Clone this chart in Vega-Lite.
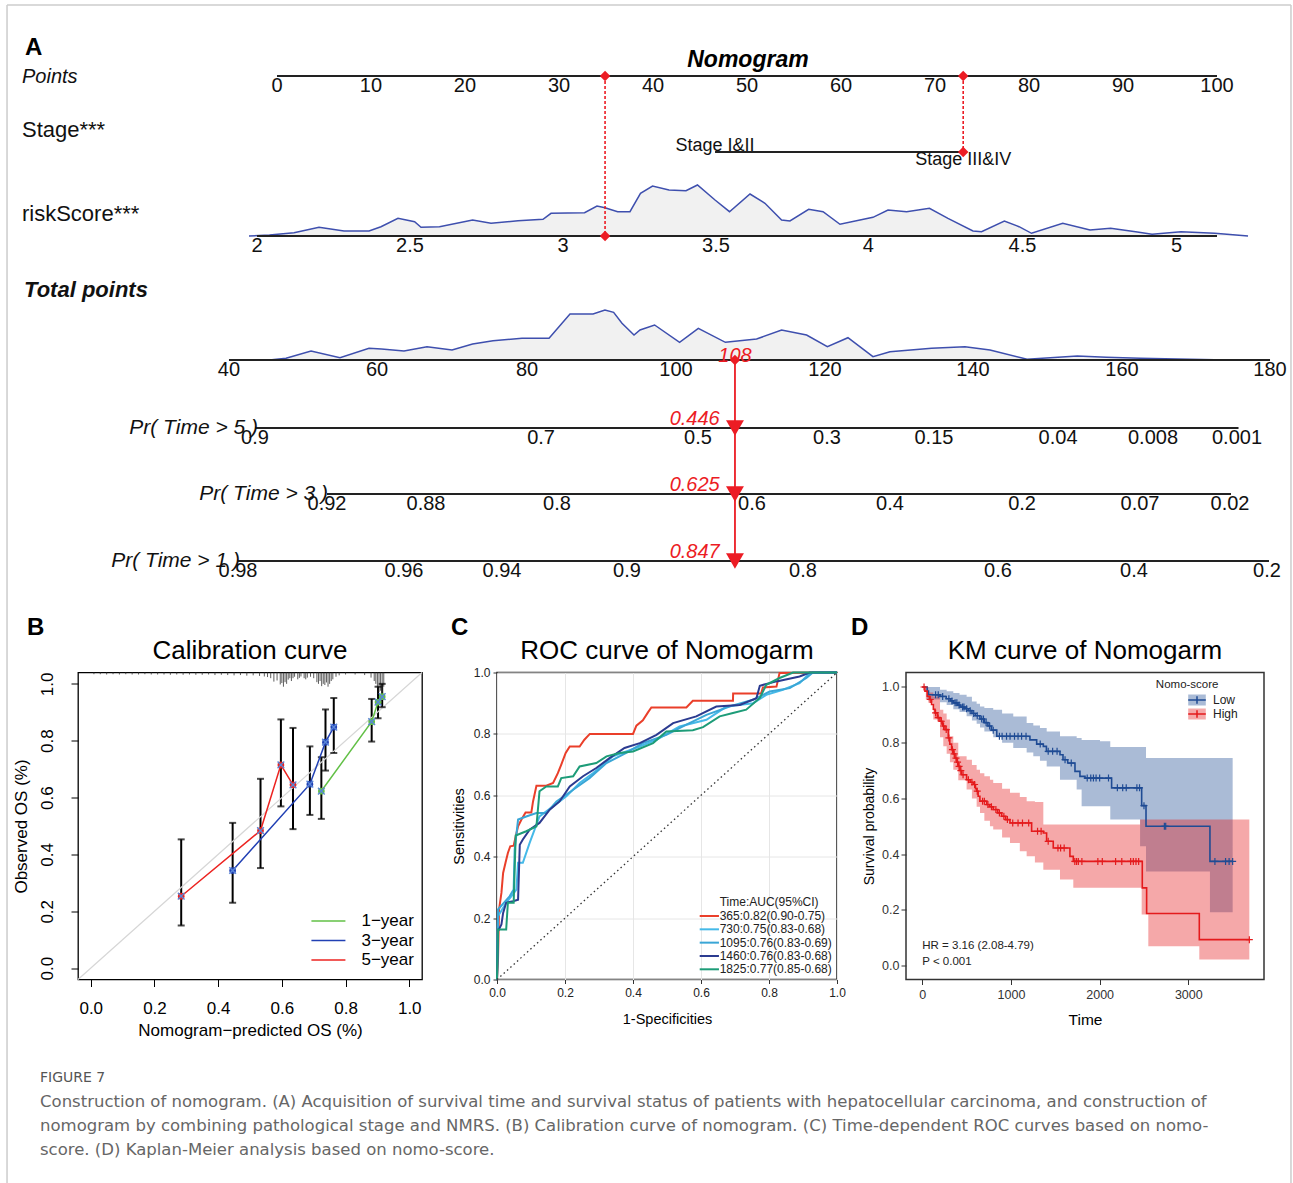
{
"$schema":"https://vega.github.io/schema/vega-lite/v6.json",
"background":"white",
"padding":0,
"bounds":"flush",
"spacing":80.5,
"config":{"view":{"stroke":null},"font":"Liberation Sans","axis":{"labelFont":"Liberation Sans","titleFont":"Liberation Sans","labelColor":"#000","titleColor":"#000","titleFontWeight":"normal"},"title":{"font":"Liberation Sans","fontWeight":"normal","color":"#000"},"text":{"font":"Liberation Sans"}},
"datasets":{
"densRS":[{"p":-2.98,"d":0},{"p":-0.8,"d":1},{"p":1.81,"d":3.3},{"p":4.47,"d":8.7},{"p":7.13,"d":5},{"p":9.79,"d":5},{"p":11.06,"d":9.3},{"p":12.87,"d":17.7},{"p":14.64,"d":14.3},{"p":15.32,"d":8.7},{"p":17.29,"d":9.3},{"p":20.81,"d":16},{"p":22.77,"d":12.7},{"p":25.64,"d":15.3},{"p":28.3,"d":16.7},{"p":29.15,"d":22.7},{"p":32.72,"d":23.3},{"p":34.04,"d":30},{"p":34.89,"d":28.3},{"p":36.24,"d":24.3},{"p":37.55,"d":24.3},{"p":38.67,"d":42.7},{"p":39.95,"d":50},{"p":41.7,"d":46},{"p":43.51,"d":45.3},{"p":44.73,"d":51},{"p":46.6,"d":36},{"p":48.14,"d":24.3},{"p":50.32,"d":42},{"p":51.91,"d":32.7},{"p":53.68,"d":16},{"p":54.57,"d":15},{"p":56.56,"d":26.7},{"p":58.09,"d":24.3},{"p":59.89,"d":11.7},{"p":63.4,"d":18.7},{"p":65.0,"d":26},{"p":66.98,"d":24.3},{"p":69.41,"d":27.7},{"p":71.38,"d":17.7},{"p":74.04,"d":5},{"p":74.95,"d":4.3},{"p":77.38,"d":15},{"p":78.94,"d":9.3},{"p":80.27,"d":2.7},{"p":83.59,"d":12.7},{"p":86.49,"d":6},{"p":88.68,"d":7.7},{"p":91.34,"d":4.3},{"p":93.09,"d":1.7},{"p":96.17,"d":4.3},{"p":99.77,"d":2.7},{"p":103.3,"d":0}],
"densTP":[{"p":-0.8,"d":0},{"p":0.96,"d":1.7},{"p":3.62,"d":9},{"p":6.7,"d":2.3},{"p":9.79,"d":11.7},{"p":11.11,"d":11},{"p":13.51,"d":9},{"p":15.96,"d":13.3},{"p":18.62,"d":10},{"p":20.81,"d":16},{"p":22.98,"d":19.3},{"p":26.06,"d":21.7},{"p":28.94,"d":21.7},{"p":31.17,"d":46},{"p":33.62,"d":46},{"p":34.89,"d":50},{"p":35.81,"d":47.7},{"p":36.7,"d":36.7},{"p":37.98,"d":25},{"p":38.62,"d":30},{"p":40.17,"d":35},{"p":42.83,"d":17.7},{"p":44.82,"d":31.7},{"p":47.7,"d":17.7},{"p":51.02,"d":21},{"p":53.68,"d":30},{"p":56.34,"d":25},{"p":58.55,"d":13.3},{"p":60.74,"d":22.3},{"p":63.4,"d":3.3},{"p":65.21,"d":8.3},{"p":69.63,"d":11.7},{"p":73.19,"d":13.3},{"p":75.85,"d":10},{"p":79.79,"d":0.7},{"p":85.14,"d":4},{"p":88.24,"d":2.7},{"p":91.81,"d":1.7},{"p":101.06,"d":0}],
"nomoAxis":[{"r":3,"p1":0,"p2":100},{"r":4,"p1":46.6,"p2":73.0},{"r":5,"p1":-2.13,"p2":100},{"r":7,"p1":-5.11,"p2":105.64},{"r":8,"p1":-2.34,"p2":102.29},{"r":9,"p1":5.32,"p2":101.49},{"r":10,"p1":-4.15,"p2":105.53}],
"nomoTicks":[
{"r":3,"p":0,"t":"0"},{"r":3,"p":10,"t":"10"},{"r":3,"p":20,"t":"20"},{"r":3,"p":30,"t":"30"},{"r":3,"p":40,"t":"40"},{"r":3,"p":50,"t":"50"},{"r":3,"p":60,"t":"60"},{"r":3,"p":70,"t":"70"},{"r":3,"p":80,"t":"80"},{"r":3,"p":90,"t":"90"},{"r":3,"p":100,"t":"100"},
{"r":5,"p":-2.13,"t":"2"},{"r":5,"p":14.15,"t":"2.5"},{"r":5,"p":30.43,"t":"3"},{"r":5,"p":46.7,"t":"3.5"},{"r":5,"p":62.9,"t":"4"},{"r":5,"p":79.3,"t":"4.5"},{"r":5,"p":95.7,"t":"5"},
{"r":7,"p":-5.11,"t":"40"},{"r":7,"p":10.64,"t":"60"},{"r":7,"p":26.6,"t":"80"},{"r":7,"p":42.45,"t":"100"},{"r":7,"p":58.3,"t":"120"},{"r":7,"p":74.04,"t":"140"},{"r":7,"p":89.9,"t":"160"},{"r":7,"p":105.64,"t":"180"},
{"r":8,"p":-2.34,"t":"0.9"},{"r":8,"p":28.09,"t":"0.7"},{"r":8,"p":44.79,"t":"0.5"},{"r":8,"p":58.51,"t":"0.3"},{"r":8,"p":69.89,"t":"0.15"},{"r":8,"p":83.09,"t":"0.04"},{"r":8,"p":93.19,"t":"0.008"},{"r":8,"p":102.13,"t":"0.001"},
{"r":9,"p":5.32,"t":"0.92"},{"r":9,"p":15.85,"t":"0.88"},{"r":9,"p":29.79,"t":"0.8"},{"r":9,"p":50.53,"t":"0.6"},{"r":9,"p":65.21,"t":"0.4"},{"r":9,"p":79.26,"t":"0.2"},{"r":9,"p":91.81,"t":"0.07"},{"r":9,"p":101.38,"t":"0.02"},
{"r":10,"p":-4.15,"t":"0.98"},{"r":10,"p":13.51,"t":"0.96"},{"r":10,"p":23.94,"t":"0.94"},{"r":10,"p":37.23,"t":"0.9"},{"r":10,"p":55.96,"t":"0.8"},{"r":10,"p":76.7,"t":"0.6"},{"r":10,"p":91.17,"t":"0.4"},{"r":10,"p":105.32,"t":"0.2"}],
"rug":[{"pred":0.01,"bot":1.034},{"pred":0.03,"bot":1.034},{"pred":0.05,"bot":1.033},{"pred":0.07,"bot":1.034},{"pred":0.09,"bot":1.033},{"pred":0.11,"bot":1.034},{"pred":0.13,"bot":1.033},{"pred":0.15,"bot":1.033},{"pred":0.17,"bot":1.034},{"pred":0.19,"bot":1.033},{"pred":0.21,"bot":1.033},{"pred":0.23,"bot":1.033},{"pred":0.25,"bot":1.032},{"pred":0.27,"bot":1.033},{"pred":0.29,"bot":1.032},{"pred":0.31,"bot":1.033},{"pred":0.33,"bot":1.032},{"pred":0.35,"bot":1.032},{"pred":0.37,"bot":1.033},{"pred":0.39,"bot":1.031},{"pred":0.41,"bot":1.032},{"pred":0.43,"bot":1.031},{"pred":0.45,"bot":1.03},{"pred":0.47,"bot":1.031},{"pred":0.49,"bot":1.029},{"pred":0.51,"bot":1.03},{"pred":0.53,"bot":1.028},{"pred":0.545,"bot":1.026},{"pred":0.555,"bot":1.024},{"pred":0.565,"bot":1.02},{"pred":0.575,"bot":1.008},{"pred":0.585,"bot":1.012},{"pred":0.595,"bot":0.998},{"pred":0.6,"bot":1.003},{"pred":0.605,"bot":0.99},{"pred":0.61,"bot":1.006},{"pred":0.615,"bot":1.0},{"pred":0.62,"bot":1.015},{"pred":0.625,"bot":1.02},{"pred":0.63,"bot":1.01},{"pred":0.635,"bot":1.02},{"pred":0.64,"bot":1.025},{"pred":0.65,"bot":1.016},{"pred":0.655,"bot":1.021},{"pred":0.66,"bot":1.026},{"pred":0.67,"bot":1.02},{"pred":0.675,"bot":1.016},{"pred":0.68,"bot":1.022},{"pred":0.69,"bot":1.025},{"pred":0.7,"bot":1.02},{"pred":0.71,"bot":1.006},{"pred":0.715,"bot":1.0},{"pred":0.72,"bot":1.01},{"pred":0.725,"bot":0.992},{"pred":0.73,"bot":1.0},{"pred":0.735,"bot":0.996},{"pred":0.74,"bot":1.005},{"pred":0.745,"bot":0.99},{"pred":0.75,"bot":1.0},{"pred":0.755,"bot":1.01},{"pred":0.76,"bot":1.016},{"pred":0.77,"bot":1.025},{"pred":0.78,"bot":1.03},{"pred":0.8,"bot":1.033},{"pred":0.83,"bot":1.033},{"pred":0.86,"bot":1.031},{"pred":0.88,"bot":1.022},{"pred":0.89,"bot":1.01},{"pred":0.895,"bot":1.0},{"pred":0.9,"bot":0.985},{"pred":0.905,"bot":0.972},{"pred":0.91,"bot":0.976},{"pred":0.915,"bot":0.966},{"pred":0.92,"bot":0.99}],
"calib":[
{"s":"1−year","pred":0.724,"obs":0.623,"lo":0.525,"hi":0.742},
{"s":"1−year","pred":0.882,"obs":0.867,"lo":0.797,"hi":0.947},
{"s":"1−year","pred":0.902,"obs":0.936,"lo":0.879,"hi":0.99},
{"s":"1−year","pred":0.915,"obs":0.955,"lo":0.918,"hi":1.0},
{"s":"3−year","pred":0.4455,"obs":0.3435,"lo":0.23,"hi":0.511},
{"s":"3−year","pred":0.688,"obs":0.647,"lo":0.539,"hi":0.78},
{"s":"3−year","pred":0.737,"obs":0.795,"lo":0.695,"hi":0.91},
{"s":"3−year","pred":0.763,"obs":0.848,"lo":0.757,"hi":0.95},
{"s":"5−year","pred":0.284,"obs":0.253,"lo":0.15,"hi":0.453},
{"s":"5−year","pred":0.533,"obs":0.484,"lo":0.352,"hi":0.666},
{"s":"5−year","pred":0.597,"obs":0.715,"lo":0.569,"hi":0.875},
{"s":"5−year","pred":0.635,"obs":0.645,"lo":0.489,"hi":0.845}],
"roc":[
{"s":"365:0.82(0.90-0.75)","fpr":0,"tpr":0},{"s":"365:0.82(0.90-0.75)","fpr":0.003,"tpr":0.065},{"s":"365:0.82(0.90-0.75)","fpr":0.006,"tpr":0.228},{"s":"365:0.82(0.90-0.75)","fpr":0.013,"tpr":0.282},{"s":"365:0.82(0.90-0.75)","fpr":0.018,"tpr":0.347},{"s":"365:0.82(0.90-0.75)","fpr":0.025,"tpr":0.38},{"s":"365:0.82(0.90-0.75)","fpr":0.032,"tpr":0.412},{"s":"365:0.82(0.90-0.75)","fpr":0.039,"tpr":0.434},{"s":"365:0.82(0.90-0.75)","fpr":0.049,"tpr":0.436},{"s":"365:0.82(0.90-0.75)","fpr":0.055,"tpr":0.466},{"s":"365:0.82(0.90-0.75)","fpr":0.062,"tpr":0.499},{"s":"365:0.82(0.90-0.75)","fpr":0.072,"tpr":0.521},{"s":"365:0.82(0.90-0.75)","fpr":0.084,"tpr":0.544},{"s":"365:0.82(0.90-0.75)","fpr":0.101,"tpr":0.544},{"s":"365:0.82(0.90-0.75)","fpr":0.106,"tpr":0.58},{"s":"365:0.82(0.90-0.75)","fpr":0.116,"tpr":0.631},{"s":"365:0.82(0.90-0.75)","fpr":0.145,"tpr":0.631},{"s":"365:0.82(0.90-0.75)","fpr":0.165,"tpr":0.64},{"s":"365:0.82(0.90-0.75)","fpr":0.179,"tpr":0.672},{"s":"365:0.82(0.90-0.75)","fpr":0.189,"tpr":0.7},{"s":"365:0.82(0.90-0.75)","fpr":0.202,"tpr":0.738},{"s":"365:0.82(0.90-0.75)","fpr":0.214,"tpr":0.759},{"s":"365:0.82(0.90-0.75)","fpr":0.243,"tpr":0.759},{"s":"365:0.82(0.90-0.75)","fpr":0.257,"tpr":0.781},{"s":"365:0.82(0.90-0.75)","fpr":0.273,"tpr":0.8},{"s":"365:0.82(0.90-0.75)","fpr":0.4,"tpr":0.8},{"s":"365:0.82(0.90-0.75)","fpr":0.41,"tpr":0.827},{"s":"365:0.82(0.90-0.75)","fpr":0.429,"tpr":0.844},{"s":"365:0.82(0.90-0.75)","fpr":0.444,"tpr":0.87},{"s":"365:0.82(0.90-0.75)","fpr":0.454,"tpr":0.886},{"s":"365:0.82(0.90-0.75)","fpr":0.557,"tpr":0.886},{"s":"365:0.82(0.90-0.75)","fpr":0.576,"tpr":0.908},{"s":"365:0.82(0.90-0.75)","fpr":0.694,"tpr":0.908},{"s":"365:0.82(0.90-0.75)","fpr":0.6945,"tpr":0.932},{"s":"365:0.82(0.90-0.75)","fpr":0.777,"tpr":0.932},{"s":"365:0.82(0.90-0.75)","fpr":0.782,"tpr":0.951},{"s":"365:0.82(0.90-0.75)","fpr":0.822,"tpr":0.954},{"s":"365:0.82(0.90-0.75)","fpr":0.831,"tpr":0.998},{"s":"365:0.82(0.90-0.75)","fpr":1,"tpr":1},
{"s":"730:0.75(0.83-0.68)","fpr":0,"tpr":0},{"s":"730:0.75(0.83-0.68)","fpr":0.003,"tpr":0.206},{"s":"730:0.75(0.83-0.68)","fpr":0.027,"tpr":0.25},{"s":"730:0.75(0.83-0.68)","fpr":0.042,"tpr":0.271},{"s":"730:0.75(0.83-0.68)","fpr":0.057,"tpr":0.293},{"s":"730:0.75(0.83-0.68)","fpr":0.062,"tpr":0.38},{"s":"730:0.75(0.83-0.68)","fpr":0.076,"tpr":0.38},{"s":"730:0.75(0.83-0.68)","fpr":0.096,"tpr":0.445},{"s":"730:0.75(0.83-0.68)","fpr":0.125,"tpr":0.531},{"s":"730:0.75(0.83-0.68)","fpr":0.165,"tpr":0.564},{"s":"730:0.75(0.83-0.68)","fpr":0.204,"tpr":0.597},{"s":"730:0.75(0.83-0.68)","fpr":0.243,"tpr":0.64},{"s":"730:0.75(0.83-0.68)","fpr":0.282,"tpr":0.672},{"s":"730:0.75(0.83-0.68)","fpr":0.341,"tpr":0.727},{"s":"730:0.75(0.83-0.68)","fpr":0.42,"tpr":0.759},{"s":"730:0.75(0.83-0.68)","fpr":0.469,"tpr":0.781},{"s":"730:0.75(0.83-0.68)","fpr":0.537,"tpr":0.824},{"s":"730:0.75(0.83-0.68)","fpr":0.616,"tpr":0.846},{"s":"730:0.75(0.83-0.68)","fpr":0.675,"tpr":0.889},{"s":"730:0.75(0.83-0.68)","fpr":0.753,"tpr":0.9},{"s":"730:0.75(0.83-0.68)","fpr":0.792,"tpr":0.927},{"s":"730:0.75(0.83-0.68)","fpr":0.841,"tpr":0.944},{"s":"730:0.75(0.83-0.68)","fpr":0.89,"tpr":0.965},{"s":"730:0.75(0.83-0.68)","fpr":0.92,"tpr":0.998},{"s":"730:0.75(0.83-0.68)","fpr":1,"tpr":1},
{"s":"1095:0.76(0.83-0.69)","fpr":0,"tpr":0},{"s":"1095:0.76(0.83-0.69)","fpr":0.003,"tpr":0.228},{"s":"1095:0.76(0.83-0.69)","fpr":0.037,"tpr":0.271},{"s":"1095:0.76(0.83-0.69)","fpr":0.049,"tpr":0.293},{"s":"1095:0.76(0.83-0.69)","fpr":0.052,"tpr":0.423},{"s":"1095:0.76(0.83-0.69)","fpr":0.062,"tpr":0.521},{"s":"1095:0.76(0.83-0.69)","fpr":0.086,"tpr":0.531},{"s":"1095:0.76(0.83-0.69)","fpr":0.116,"tpr":0.542},{"s":"1095:0.76(0.83-0.69)","fpr":0.145,"tpr":0.542},{"s":"1095:0.76(0.83-0.69)","fpr":0.175,"tpr":0.58},{"s":"1095:0.76(0.83-0.69)","fpr":0.224,"tpr":0.618},{"s":"1095:0.76(0.83-0.69)","fpr":0.272,"tpr":0.656},{"s":"1095:0.76(0.83-0.69)","fpr":0.322,"tpr":0.705},{"s":"1095:0.76(0.83-0.69)","fpr":0.38,"tpr":0.738},{"s":"1095:0.76(0.83-0.69)","fpr":0.429,"tpr":0.77},{"s":"1095:0.76(0.83-0.69)","fpr":0.498,"tpr":0.797},{"s":"1095:0.76(0.83-0.69)","fpr":0.557,"tpr":0.83},{"s":"1095:0.76(0.83-0.69)","fpr":0.616,"tpr":0.862},{"s":"1095:0.76(0.83-0.69)","fpr":0.684,"tpr":0.889},{"s":"1095:0.76(0.83-0.69)","fpr":0.753,"tpr":0.911},{"s":"1095:0.76(0.83-0.69)","fpr":0.802,"tpr":0.938},{"s":"1095:0.76(0.83-0.69)","fpr":0.861,"tpr":0.949},{"s":"1095:0.76(0.83-0.69)","fpr":0.91,"tpr":0.982},{"s":"1095:0.76(0.83-0.69)","fpr":0.929,"tpr":1.0},{"s":"1095:0.76(0.83-0.69)","fpr":1,"tpr":1},
{"s":"1460:0.76(0.83-0.68)","fpr":0,"tpr":0},{"s":"1460:0.76(0.83-0.68)","fpr":0.003,"tpr":0.157},{"s":"1460:0.76(0.83-0.68)","fpr":0.013,"tpr":0.179},{"s":"1460:0.76(0.83-0.68)","fpr":0.018,"tpr":0.217},{"s":"1460:0.76(0.83-0.68)","fpr":0.027,"tpr":0.25},{"s":"1460:0.76(0.83-0.68)","fpr":0.047,"tpr":0.255},{"s":"1460:0.76(0.83-0.68)","fpr":0.062,"tpr":0.26},{"s":"1460:0.76(0.83-0.68)","fpr":0.067,"tpr":0.439},{"s":"1460:0.76(0.83-0.68)","fpr":0.076,"tpr":0.456},{"s":"1460:0.76(0.83-0.68)","fpr":0.096,"tpr":0.488},{"s":"1460:0.76(0.83-0.68)","fpr":0.125,"tpr":0.51},{"s":"1460:0.76(0.83-0.68)","fpr":0.155,"tpr":0.553},{"s":"1460:0.76(0.83-0.68)","fpr":0.184,"tpr":0.58},{"s":"1460:0.76(0.83-0.68)","fpr":0.214,"tpr":0.629},{"s":"1460:0.76(0.83-0.68)","fpr":0.253,"tpr":0.662},{"s":"1460:0.76(0.83-0.68)","fpr":0.292,"tpr":0.689},{"s":"1460:0.76(0.83-0.68)","fpr":0.331,"tpr":0.721},{"s":"1460:0.76(0.83-0.68)","fpr":0.375,"tpr":0.754},{"s":"1460:0.76(0.83-0.68)","fpr":0.42,"tpr":0.77},{"s":"1460:0.76(0.83-0.68)","fpr":0.469,"tpr":0.797},{"s":"1460:0.76(0.83-0.68)","fpr":0.518,"tpr":0.835},{"s":"1460:0.76(0.83-0.68)","fpr":0.586,"tpr":0.857},{"s":"1460:0.76(0.83-0.68)","fpr":0.645,"tpr":0.889},{"s":"1460:0.76(0.83-0.68)","fpr":0.714,"tpr":0.894},{"s":"1460:0.76(0.83-0.68)","fpr":0.763,"tpr":0.916},{"s":"1460:0.76(0.83-0.68)","fpr":0.773,"tpr":0.957},{"s":"1460:0.76(0.83-0.68)","fpr":0.822,"tpr":0.971},{"s":"1460:0.76(0.83-0.68)","fpr":0.89,"tpr":0.987},{"s":"1460:0.76(0.83-0.68)","fpr":0.92,"tpr":1.0},{"s":"1460:0.76(0.83-0.68)","fpr":1,"tpr":1},
{"s":"1825:0.77(0.85-0.68)","fpr":0,"tpr":0},{"s":"1825:0.77(0.85-0.68)","fpr":0.003,"tpr":0.163},{"s":"1825:0.77(0.85-0.68)","fpr":0.027,"tpr":0.163},{"s":"1825:0.77(0.85-0.68)","fpr":0.032,"tpr":0.25},{"s":"1825:0.77(0.85-0.68)","fpr":0.049,"tpr":0.25},{"s":"1825:0.77(0.85-0.68)","fpr":0.055,"tpr":0.469},{"s":"1825:0.77(0.85-0.68)","fpr":0.086,"tpr":0.483},{"s":"1825:0.77(0.85-0.68)","fpr":0.116,"tpr":0.499},{"s":"1825:0.77(0.85-0.68)","fpr":0.125,"tpr":0.613},{"s":"1825:0.77(0.85-0.68)","fpr":0.145,"tpr":0.629},{"s":"1825:0.77(0.85-0.68)","fpr":0.179,"tpr":0.629},{"s":"1825:0.77(0.85-0.68)","fpr":0.189,"tpr":0.656},{"s":"1825:0.77(0.85-0.68)","fpr":0.224,"tpr":0.662},{"s":"1825:0.77(0.85-0.68)","fpr":0.243,"tpr":0.694},{"s":"1825:0.77(0.85-0.68)","fpr":0.292,"tpr":0.705},{"s":"1825:0.77(0.85-0.68)","fpr":0.322,"tpr":0.727},{"s":"1825:0.77(0.85-0.68)","fpr":0.361,"tpr":0.738},{"s":"1825:0.77(0.85-0.68)","fpr":0.4,"tpr":0.743},{"s":"1825:0.77(0.85-0.68)","fpr":0.459,"tpr":0.77},{"s":"1825:0.77(0.85-0.68)","fpr":0.498,"tpr":0.808},{"s":"1825:0.77(0.85-0.68)","fpr":0.576,"tpr":0.812},{"s":"1825:0.77(0.85-0.68)","fpr":0.606,"tpr":0.822},{"s":"1825:0.77(0.85-0.68)","fpr":0.655,"tpr":0.857},{"s":"1825:0.77(0.85-0.68)","fpr":0.694,"tpr":0.868},{"s":"1825:0.77(0.85-0.68)","fpr":0.733,"tpr":0.879},{"s":"1825:0.77(0.85-0.68)","fpr":0.773,"tpr":0.917},{"s":"1825:0.77(0.85-0.68)","fpr":0.792,"tpr":0.96},{"s":"1825:0.77(0.85-0.68)","fpr":0.831,"tpr":0.982},{"s":"1825:0.77(0.85-0.68)","fpr":0.871,"tpr":1.0},{"s":"1825:0.77(0.85-0.68)","fpr":1,"tpr":1}],
"kmcurve":[
{"g":"Low","t":0,"s":1},{"g":"Low","t":55,"s":0.985},{"g":"Low","t":70,"s":0.972},{"g":"Low","t":200,"s":0.966},{"g":"Low","t":270,"s":0.958},{"g":"Low","t":320,"s":0.95},{"g":"Low","t":350,"s":0.943},{"g":"Low","t":400,"s":0.935},{"g":"Low","t":430,"s":0.928},{"g":"Low","t":480,"s":0.922},{"g":"Low","t":520,"s":0.915},{"g":"Low","t":560,"s":0.905},{"g":"Low","t":600,"s":0.897},{"g":"Low","t":650,"s":0.885},{"g":"Low","t":700,"s":0.872},{"g":"Low","t":740,"s":0.86},{"g":"Low","t":780,"s":0.845},{"g":"Low","t":840,"s":0.823},{"g":"Low","t":1214,"s":0.81},{"g":"Low","t":1290,"s":0.795},{"g":"Low","t":1365,"s":0.787},{"g":"Low","t":1400,"s":0.769},{"g":"Low","t":1553,"s":0.757},{"g":"Low","t":1587,"s":0.739},{"g":"Low","t":1640,"s":0.727},{"g":"Low","t":1722,"s":0.697},{"g":"Low","t":1778,"s":0.679},{"g":"Low","t":1835,"s":0.673},{"g":"Low","t":2135,"s":0.638},{"g":"Low","t":2474,"s":0.574},{"g":"Low","t":2523,"s":0.5},{"g":"Low","t":3244,"s":0.374},{"g":"Low","t":3500,"s":0.374},
{"g":"High","t":0,"s":1},{"g":"High","t":30,"s":0.985},{"g":"High","t":56,"s":0.967},{"g":"High","t":80,"s":0.955},{"g":"High","t":105,"s":0.937},{"g":"High","t":125,"s":0.92},{"g":"High","t":143,"s":0.907},{"g":"High","t":170,"s":0.89},{"g":"High","t":199,"s":0.877},{"g":"High","t":230,"s":0.86},{"g":"High","t":256,"s":0.847},{"g":"High","t":293,"s":0.817},{"g":"High","t":310,"s":0.795},{"g":"High","t":331,"s":0.775},{"g":"High","t":350,"s":0.76},{"g":"High","t":368,"s":0.745},{"g":"High","t":390,"s":0.73},{"g":"High","t":406,"s":0.715},{"g":"High","t":425,"s":0.7},{"g":"High","t":444,"s":0.685},{"g":"High","t":500,"s":0.667},{"g":"High","t":540,"s":0.658},{"g":"High","t":575,"s":0.65},{"g":"High","t":600,"s":0.635},{"g":"High","t":613,"s":0.626},{"g":"High","t":630,"s":0.608},{"g":"High","t":650,"s":0.59},{"g":"High","t":726,"s":0.578},{"g":"High","t":760,"s":0.57},{"g":"High","t":800,"s":0.56},{"g":"High","t":850,"s":0.548},{"g":"High","t":895,"s":0.536},{"g":"High","t":940,"s":0.524},{"g":"High","t":989,"s":0.512},{"g":"High","t":1233,"s":0.482},{"g":"High","t":1365,"s":0.476},{"g":"High","t":1402,"s":0.446},{"g":"High","t":1477,"s":0.422},{"g":"High","t":1665,"s":0.392},{"g":"High","t":1703,"s":0.374},{"g":"High","t":2481,"s":0.279},{"g":"High","t":2530,"s":0.187},{"g":"High","t":3124,"s":0.093},{"g":"High","t":3688,"s":0.093}],
"kmband":[
{"g":"Low","t":0,"lo":1,"hi":1},{"g":"Low","t":50,"lo":0.955,"hi":1},{"g":"Low","t":200,"lo":0.945,"hi":0.99},{"g":"Low","t":275,"lo":0.935,"hi":0.985},{"g":"Low","t":350,"lo":0.92,"hi":0.978},{"g":"Low","t":420,"lo":0.91,"hi":0.972},{"g":"Low","t":500,"lo":0.895,"hi":0.965},{"g":"Low","t":560,"lo":0.88,"hi":0.948},{"g":"Low","t":613,"lo":0.868,"hi":0.94},{"g":"Low","t":651,"lo":0.855,"hi":0.93},{"g":"Low","t":700,"lo":0.84,"hi":0.925},{"g":"Low","t":800,"lo":0.82,"hi":0.918},{"g":"Low","t":900,"lo":0.8,"hi":0.905},{"g":"Low","t":1026,"lo":0.781,"hi":0.894},{"g":"Low","t":1177,"lo":0.765,"hi":0.871},{"g":"Low","t":1252,"lo":0.751,"hi":0.862},{"g":"Low","t":1327,"lo":0.735,"hi":0.853},{"g":"Low","t":1403,"lo":0.715,"hi":0.84},{"g":"Low","t":1553,"lo":0.667,"hi":0.823},{"g":"Low","t":1741,"lo":0.632,"hi":0.817},{"g":"Low","t":1797,"lo":0.572,"hi":0.81},{"g":"Low","t":2004,"lo":0.572,"hi":0.805},{"g":"Low","t":2120,"lo":0.524,"hi":0.785},{"g":"Low","t":2456,"lo":0.428,"hi":0.785},{"g":"Low","t":2523,"lo":0.338,"hi":0.745},{"g":"Low","t":3244,"lo":0.191,"hi":0.745},{"g":"Low","t":3500,"lo":0.191,"hi":0.745},
{"g":"High","t":0,"lo":1,"hi":1},{"g":"High","t":40,"lo":0.955,"hi":1},{"g":"High","t":68,"lo":0.943,"hi":0.98},{"g":"High","t":124,"lo":0.883,"hi":0.966},{"g":"High","t":200,"lo":0.82,"hi":0.918},{"g":"High","t":237,"lo":0.787,"hi":0.905},{"g":"High","t":275,"lo":0.76,"hi":0.883},{"g":"High","t":312,"lo":0.73,"hi":0.823},{"g":"High","t":350,"lo":0.703,"hi":0.8},{"g":"High","t":406,"lo":0.665,"hi":0.751},{"g":"High","t":500,"lo":0.632,"hi":0.739},{"g":"High","t":560,"lo":0.6,"hi":0.72},{"g":"High","t":613,"lo":0.57,"hi":0.703},{"g":"High","t":651,"lo":0.548,"hi":0.69},{"g":"High","t":700,"lo":0.52,"hi":0.68},{"g":"High","t":763,"lo":0.5,"hi":0.667},{"g":"High","t":800,"lo":0.488,"hi":0.655},{"g":"High","t":900,"lo":0.46,"hi":0.635},{"g":"High","t":989,"lo":0.44,"hi":0.62},{"g":"High","t":1100,"lo":0.41,"hi":0.605},{"g":"High","t":1177,"lo":0.392,"hi":0.59},{"g":"High","t":1270,"lo":0.37,"hi":0.587},{"g":"High","t":1365,"lo":0.344,"hi":0.506},{"g":"High","t":1553,"lo":0.309,"hi":0.506},{"g":"High","t":1703,"lo":0.279,"hi":0.506},{"g":"High","t":2456,"lo":0.279,"hi":0.524},{"g":"High","t":2474,"lo":0.183,"hi":0.524},{"g":"High","t":2549,"lo":0.069,"hi":0.524},{"g":"High","t":3124,"lo":0.022,"hi":0.524},{"g":"High","t":3688,"lo":0.022,"hi":0.524}],
"kmcens":[
{"g":"Low","t":150,"s":0.972},{"g":"Low","t":180,"s":0.972},{"g":"Low","t":230,"s":0.966},{"g":"Low","t":300,"s":0.958},{"g":"Low","t":335,"s":0.95},{"g":"Low","t":370,"s":0.943},{"g":"Low","t":390,"s":0.943},{"g":"Low","t":415,"s":0.935},{"g":"Low","t":455,"s":0.928},{"g":"Low","t":470,"s":0.928},{"g":"Low","t":500,"s":0.922},{"g":"Low","t":540,"s":0.915},{"g":"Low","t":580,"s":0.905},{"g":"Low","t":620,"s":0.897},{"g":"Low","t":670,"s":0.885},{"g":"Low","t":690,"s":0.885},{"g":"Low","t":720,"s":0.872},{"g":"Low","t":760,"s":0.86},{"g":"Low","t":800,"s":0.845},{"g":"Low","t":870,"s":0.823},{"g":"Low","t":900,"s":0.823},{"g":"Low","t":950,"s":0.823},{"g":"Low","t":990,"s":0.823},{"g":"Low","t":1040,"s":0.823},{"g":"Low","t":1080,"s":0.823},{"g":"Low","t":1120,"s":0.823},{"g":"Low","t":1170,"s":0.823},{"g":"Low","t":1330,"s":0.795},{"g":"Low","t":1420,"s":0.769},{"g":"Low","t":1470,"s":0.769},{"g":"Low","t":1520,"s":0.769},{"g":"Low","t":1610,"s":0.739},{"g":"Low","t":1680,"s":0.727},{"g":"Low","t":1860,"s":0.673},{"g":"Low","t":1900,"s":0.673},{"g":"Low","t":1930,"s":0.673},{"g":"Low","t":1960,"s":0.673},{"g":"Low","t":2000,"s":0.673},{"g":"Low","t":2100,"s":0.673},{"g":"Low","t":2200,"s":0.638},{"g":"Low","t":2260,"s":0.638},{"g":"Low","t":2300,"s":0.638},{"g":"Low","t":2420,"s":0.638},{"g":"Low","t":2450,"s":0.638},{"g":"Low","t":2500,"s":0.574},{"g":"Low","t":2730,"s":0.5},{"g":"Low","t":2745,"s":0.5},{"g":"Low","t":3300,"s":0.374},{"g":"Low","t":3420,"s":0.374},{"g":"Low","t":3460,"s":0.374},{"g":"Low","t":3500,"s":0.374},
{"g":"High","t":20,"s":1},{"g":"High","t":90,"s":0.955},{"g":"High","t":150,"s":0.907},{"g":"High","t":180,"s":0.89},{"g":"High","t":215,"s":0.877},{"g":"High","t":240,"s":0.86},{"g":"High","t":270,"s":0.847},{"g":"High","t":300,"s":0.817},{"g":"High","t":340,"s":0.775},{"g":"High","t":360,"s":0.76},{"g":"High","t":380,"s":0.745},{"g":"High","t":398,"s":0.73},{"g":"High","t":415,"s":0.715},{"g":"High","t":435,"s":0.7},{"g":"High","t":460,"s":0.685},{"g":"High","t":520,"s":0.667},{"g":"High","t":560,"s":0.658},{"g":"High","t":590,"s":0.65},{"g":"High","t":620,"s":0.626},{"g":"High","t":680,"s":0.59},{"g":"High","t":700,"s":0.59},{"g":"High","t":740,"s":0.578},{"g":"High","t":780,"s":0.57},{"g":"High","t":830,"s":0.56},{"g":"High","t":870,"s":0.548},{"g":"High","t":920,"s":0.536},{"g":"High","t":960,"s":0.524},{"g":"High","t":1020,"s":0.512},{"g":"High","t":1080,"s":0.512},{"g":"High","t":1130,"s":0.512},{"g":"High","t":1200,"s":0.512},{"g":"High","t":1300,"s":0.482},{"g":"High","t":1340,"s":0.482},{"g":"High","t":1420,"s":0.446},{"g":"High","t":1530,"s":0.422},{"g":"High","t":1560,"s":0.422},{"g":"High","t":1600,"s":0.422},{"g":"High","t":1720,"s":0.374},{"g":"High","t":1740,"s":0.374},{"g":"High","t":1760,"s":0.374},{"g":"High","t":1800,"s":0.374},{"g":"High","t":1980,"s":0.374},{"g":"High","t":2030,"s":0.374},{"g":"High","t":2180,"s":0.374},{"g":"High","t":2250,"s":0.374},{"g":"High","t":2350,"s":0.374},{"g":"High","t":2380,"s":0.374},{"g":"High","t":2410,"s":0.374},{"g":"High","t":2440,"s":0.374},{"g":"High","t":3688,"s":0.093}],
"caption":[{"r":13,"t":"Construction of nomogram. (A) Acquisition of survival time and survival status of patients with hepatocellular carcinoma, and construction of"},{"r":14,"t":"nomogram by combining pathological stage and NMRS. (B) Calibration curve of nomogram. (C) Time-dependent ROC curves based on nomo-"},{"r":15,"t":"score. (D) Kaplan-Meier analysis based on nomo-score."}]
},
"vconcat":[
{
"width":1293,"height":592,
"resolve":{"scale":{"y":"independent"}},
"layer":[
{"data":{"name":"densRS"},"mark":{"type":"area","color":"#ebebeb","line":{"color":"#3e4fae","strokeWidth":1.5}},
 "encoding":{"x":{"field":"p","type":"quantitative","scale":{"domain":[-29.468,108.085],"nice":false,"zero":false},"axis":null},
 "y":{"field":"d","type":"quantitative","scale":{"domain":[0,100],"range":[236,136],"nice":false,"zero":true},"axis":null}}},
{"data":{"name":"densTP"},"mark":{"type":"area","color":"#ebebeb","line":{"color":"#3e4fae","strokeWidth":1.5}},
 "encoding":{"x":{"field":"p","type":"quantitative","axis":null},
 "y":{"field":"d","type":"quantitative","scale":{"domain":[0,100],"range":[360,260],"nice":false,"zero":true},"axis":null}}},
{"layer":[
 {"data":{"values":[{"p1":-28.72,"p2":107.87,"r":0}]},"mark":{"type":"rule","color":"#cccccc","strokeWidth":1.5},
  "encoding":{"x":{"field":"p1","type":"quantitative","axis":null},"x2":{"field":"p2"},
  "y":{"field":"r","type":"quantitative","scale":{"domain":[0,1,2,3,4,5,6,7,8,9,10,11,12,13,14,15,16],"range":[5,48,60,76,152,236,290,360,428,494,561,628,1078,1102,1126,1150,1183],"nice":false,"zero":false},"axis":null}}},
 {"data":{"values":[{"p":-28.72,"r1":0,"r2":16},{"p":107.87,"r1":0,"r2":16}]},"mark":{"type":"rule","color":"#cccccc","strokeWidth":1.5},
  "encoding":{"x":{"field":"p","type":"quantitative","axis":null},"y":{"field":"r1","type":"quantitative","axis":null},"y2":{"field":"r2"}}},
 {"data":{"name":"nomoAxis"},"mark":{"type":"rule","color":"#222222","strokeWidth":2},
  "encoding":{"x":{"field":"p1","type":"quantitative","axis":null},"x2":{"field":"p2"},"y":{"field":"r","type":"quantitative","axis":null}}},
 {"data":{"name":"nomoTicks"},"mark":{"type":"text","fontSize":20,"dy":10,"baseline":"middle","align":"center","color":"#111111"},
  "encoding":{"x":{"field":"p","type":"quantitative","axis":null},"y":{"field":"r","type":"quantitative","axis":null},"text":{"field":"t","type":"nominal"}}},
 {"data":{"values":[{"p":46.6,"r":4,"t":"Stage I&II"}]},"mark":{"type":"text","fontSize":18,"dy":-6,"color":"#111111"},
  "encoding":{"x":{"field":"p","type":"quantitative","axis":null},"y":{"field":"r","type":"quantitative","axis":null},"text":{"field":"t","type":"nominal"}}},
 {"data":{"values":[{"p":73.0,"r":4,"t":"Stage III&IV"}]},"mark":{"type":"text","fontSize":18,"dy":8,"color":"#111111"},
  "encoding":{"x":{"field":"p","type":"quantitative","axis":null},"y":{"field":"r","type":"quantitative","axis":null},"text":{"field":"t","type":"nominal"}}},
 {"data":{"values":[{"p":-27.13,"r":4,"t":"Stage***"},{"p":-27.13,"r":5,"t":"riskScore***"}]},"mark":{"type":"text","fontSize":22,"dy":-22,"align":"left","color":"#111111"},
  "encoding":{"x":{"field":"p","type":"quantitative","axis":null},"y":{"field":"r","type":"quantitative","axis":null},"text":{"field":"t","type":"nominal"}}},
 {"data":{"values":[{"p":-27.13,"r":3,"t":"Points"}]},"mark":{"type":"text","fontSize":20,"dy":1,"align":"left","fontStyle":"italic","color":"#111111"},
  "encoding":{"x":{"field":"p","type":"quantitative","axis":null},"y":{"field":"r","type":"quantitative","axis":null},"text":{"field":"t","type":"nominal"}}},
 {"data":{"values":[{"p":-26.91,"r":6,"t":"Total points"}]},"mark":{"type":"text","fontSize":22,"align":"left","fontStyle":"italic","fontWeight":"bold","color":"#111111"},
  "encoding":{"x":{"field":"p","type":"quantitative","axis":null},"y":{"field":"r","type":"quantitative","axis":null},"text":{"field":"t","type":"nominal"}}},
 {"data":{"values":[{"p":-2.02,"r":8,"t":"Pr( Time > 5 )"},{"p":5.43,"r":9,"t":"Pr( Time > 3 )"},{"p":-3.94,"r":10,"t":"Pr( Time > 1 )"}]},"mark":{"type":"text","fontSize":21,"align":"right","fontStyle":"italic","color":"#111111"},
  "encoding":{"x":{"field":"p","type":"quantitative","axis":null},"y":{"field":"r","type":"quantitative","axis":null},"text":{"field":"t","type":"nominal"}}},
 {"data":{"values":[{"p":-26.81,"r":1,"t":"A"},{"p":-26.6,"r":11,"t":"B"},{"p":18.51,"r":11,"t":"C"},{"p":61.06,"r":11,"t":"D"}]},"mark":{"type":"text","fontSize":24,"align":"left","fontWeight":"bold","color":"#000000"},
  "encoding":{"x":{"field":"p","type":"quantitative","axis":null},"y":{"field":"r","type":"quantitative","axis":null},"text":{"field":"t","type":"nominal"}}},
 {"data":{"values":[{"p":50.1,"r":2,"t":"Nomogram"}]},"mark":{"type":"text","fontSize":23,"align":"center","fontStyle":"italic","fontWeight":"bold","color":"#000000"},
  "encoding":{"x":{"field":"p","type":"quantitative","axis":null},"y":{"field":"r","type":"quantitative","axis":null},"text":{"field":"t","type":"nominal"}}},
 {"data":{"values":[{"p":34.9,"r1":3,"r2":5},{"p":73.0,"r1":3,"r2":4}]},"mark":{"type":"rule","color":"#ec1c24","strokeWidth":1.6,"strokeDash":[3,2]},
  "encoding":{"x":{"field":"p","type":"quantitative","axis":null},"y":{"field":"r1","type":"quantitative","axis":null},"y2":{"field":"r2"}}},
 {"data":{"values":[{"p":48.72,"r1":7,"r2":10}]},"mark":{"type":"rule","color":"#ec1c24","strokeWidth":1.8},
  "encoding":{"x":{"field":"p","type":"quantitative","axis":null},"y":{"field":"r1","type":"quantitative","axis":null},"y2":{"field":"r2"}}},
 {"data":{"values":[{"p":48.72,"r":7,"t":"108"}]},"mark":{"type":"text","fontSize":20,"dy":-4,"fontStyle":"italic","color":"#ec1c24"},
  "encoding":{"x":{"field":"p","type":"quantitative","axis":null},"y":{"field":"r","type":"quantitative","axis":null},"text":{"field":"t","type":"nominal"}}},
 {"data":{"values":[{"p":47.1,"r":8,"t":"0.446"},{"p":47.1,"r":9,"t":"0.625"},{"p":47.1,"r":10,"t":"0.847"}]},"mark":{"type":"text","fontSize":20,"dy":-9,"align":"right","fontStyle":"italic","color":"#ec1c24"},
  "encoding":{"x":{"field":"p","type":"quantitative","axis":null},"y":{"field":"r","type":"quantitative","axis":null},"text":{"field":"t","type":"nominal"}}},
 {"data":{"values":[{"p":34.9,"r":3},{"p":34.9,"r":5},{"p":73.0,"r":3},{"p":73.0,"r":4},{"p":48.72,"r":7}]},"mark":{"type":"point","shape":"diamond","filled":true,"size":110,"opacity":1,"color":"#ec1c24"},
  "encoding":{"x":{"field":"p","type":"quantitative","axis":null},"y":{"field":"r","type":"quantitative","axis":null}}},
 {"data":{"values":[{"p":48.72,"r":8},{"p":48.72,"r":9},{"p":48.72,"r":10}]},"mark":{"type":"point","shape":"triangle-down","filled":true,"size":320,"opacity":1,"color":"#ec1c24"},
  "encoding":{"x":{"field":"p","type":"quantitative","axis":null},"y":{"field":"r","type":"quantitative","axis":null}}},
 {"data":{"values":[{"r":12,"t":"FIGURE 7"}]},"mark":{"type":"text","align":"left","baseline":"middle","fontSize":14,"font":"DejaVu Sans","color":"#555555"},
  "encoding":{"x":{"datum":-25.21,"type":"quantitative","axis":null},"y":{"field":"r","type":"quantitative","axis":null},"text":{"field":"t","type":"nominal"}}},
 {"data":{"name":"caption"},"mark":{"type":"text","align":"left","baseline":"middle","fontSize":16.5,"font":"DejaVu Sans","color":"#666666"},
  "encoding":{"x":{"datum":-25.21,"type":"quantitative","axis":null},"y":{"field":"r","type":"quantitative","axis":null},"text":{"field":"t","type":"nominal"}}}
]}
]
},
{
"resolve":{"scale":{"color":"independent"}},
"hconcat":[
{"width":78,"height":307,"data":{"values":[{"a":0}]},"mark":{"type":"point","opacity":0}},
{
"width":344,"height":307,
"view":{"stroke":"#000000","strokeWidth":1.3},
"title":{"text":"Calibration curve","fontSize":26,"fontWeight":"normal","offset":12.5,"baseline":"alphabetic","dy":27,"frame":"group","anchor":"middle"},
"resolve":{"scale":{"y":"independent"}},
"layer":[
{"layer":[
 {"data":{"name":"calib"},"mark":{"type":"rule","color":"#000000","strokeWidth":2},
  "encoding":{"x":{"field":"pred","type":"quantitative","scale":{"domain":[-0.04,1.04],"nice":false,"zero":false},
   "axis":{"values":[0,0.2,0.4,0.6,0.8,1],"format":".1f","title":"Nomogram−predicted OS (%)","tickSize":7,"tickColor":"#000","domain":false,"grid":false,"labelFontSize":17,"labelPadding":14,"labelFlush":false,"labelOverlap":false,"titleFontSize":17,"titlePadding":6}},
  "y":{"field":"lo","type":"quantitative","scale":{"domain":[-0.04,1.04],"nice":false,"zero":false},
   "axis":{"values":[0,0.2,0.4,0.6,0.8,1],"format":".1f","title":"Observed OS (%)","tickSize":7,"tickColor":"#000","domain":false,"grid":false,"labelAngle":-90,"labelAlign":"center","labelBaseline":"bottom","labelFontSize":17,"labelPadding":15,"labelOverlap":false,"titleFontSize":17,"titlePadding":8}},
  "y2":{"field":"hi"}}},
 {"data":{"values":[{"v":-0.04},{"v":1.04}]},"mark":{"type":"line","color":"#d6d6d6","strokeWidth":1.2},
  "encoding":{"x":{"field":"v","type":"quantitative"},"y":{"field":"v","type":"quantitative"}}},
 {"data":{"name":"rug"},"mark":{"type":"rule","color":"#333333","strokeWidth":0.8},
  "encoding":{"x":{"field":"pred","type":"quantitative"},"y":{"field":"bot","type":"quantitative"},"y2":{"value":0}}},
 {"data":{"name":"calib"},"mark":{"type":"tick","orient":"horizontal","size":7,"thickness":2,"color":"#000000"},
  "encoding":{"x":{"field":"pred","type":"quantitative"},"y":{"field":"lo","type":"quantitative"}}},
 {"data":{"name":"calib"},"mark":{"type":"tick","orient":"horizontal","size":7,"thickness":2,"color":"#000000"},
  "encoding":{"x":{"field":"pred","type":"quantitative"},"y":{"field":"hi","type":"quantitative"}}},
 {"data":{"name":"calib"},"mark":{"type":"line","strokeWidth":1.5},
  "encoding":{"x":{"field":"pred","type":"quantitative"},"y":{"field":"obs","type":"quantitative"},"color":{"field":"s","type":"nominal","scale":{"domain":["1−year","3−year","5−year"],"range":["#62c046","#2140b4","#ec2320"]},"legend":null}}},
 {"data":{"name":"calib"},"mark":{"type":"point","shape":"circle","filled":true,"size":45,"opacity":1},
  "encoding":{"x":{"field":"pred","type":"quantitative"},"y":{"field":"obs","type":"quantitative"},"color":{"field":"s","type":"nominal","legend":null}}},
 {"data":{"name":"calib"},"mark":{"type":"point","shape":"M-1,-1L1,1M1,-1L-1,1","filled":false,"size":45,"strokeWidth":1.4,"opacity":1,"color":"#5a86d6"},
  "encoding":{"x":{"field":"pred","type":"quantitative"},"y":{"field":"obs","type":"quantitative"}}}
]},
{"data":{"values":[{"s":"1−year"},{"s":"3−year"},{"s":"5−year"}]},
 "layer":[
 {"mark":{"type":"point","shape":"M-2.5,0H2.5","filled":false,"size":185,"strokeWidth":1.5,"opacity":1},
  "encoding":{"x":{"datum":0.7462,"type":"quantitative"},"y":{"field":"s","type":"nominal","scale":{"type":"point","domain":["1−year","3−year","5−year"],"range":[248.5,287.5],"padding":0},"axis":null},"color":{"field":"s","type":"nominal","legend":null}}},
 {"mark":{"type":"text","align":"left","baseline":"middle","fontSize":17,"color":"#000000"},
  "encoding":{"x":{"datum":0.85,"type":"quantitative"},"y":{"field":"s","type":"nominal","axis":null},"text":{"field":"s","type":"nominal"}}}
 ]}
]
},
{"width":75,"height":307,"data":{"values":[{"a":0}]},"mark":{"type":"point","opacity":0}},
{
"width":340,"height":307,
"view":{"stroke":"#222222","strokeWidth":1.5},
"title":{"text":"ROC curve of Nomogarm","fontSize":26,"fontWeight":"normal","offset":7.5,"baseline":"alphabetic","dy":26,"frame":"group","anchor":"middle"},
"resolve":{"scale":{"y":"independent"}},
"layer":[
{"layer":[
 {"data":{"name":"roc"},"mark":{"type":"line","strokeWidth":2},
  "encoding":{"x":{"field":"fpr","type":"quantitative","scale":{"domain":[0,1],"nice":false,"zero":false},
   "axis":{"values":[0,0.2,0.4,0.6,0.8,1],"format":".1f","title":"1-Specificities","grid":true,"gridColor":"#e6e6e6","tickSize":4,"tickColor":"#333","domain":false,"labelFontSize":12,"labelColor":"#222","labelPadding":4,"labelFlush":false,"labelOverlap":false,"titleFontSize":14.5,"titlePadding":14}},
  "y":{"field":"tpr","type":"quantitative","scale":{"domain":[0,1],"nice":false,"zero":false},
   "axis":{"values":[0,0.2,0.4,0.6,0.8,1],"format":".1f","title":"Sensitivities","grid":true,"gridColor":"#e6e6e6","tickSize":4,"tickColor":"#333","domain":false,"labelFontSize":12,"labelColor":"#222","labelPadding":3,"labelFlush":false,"labelOverlap":false,"titleFontSize":14.5,"titlePadding":7}},
  "color":{"field":"s","type":"nominal","scale":{"domain":["365:0.82(0.90-0.75)","730:0.75(0.83-0.68)","1095:0.76(0.83-0.69)","1460:0.76(0.83-0.68)","1825:0.77(0.85-0.68)"],"range":["#ea3f2a","#45b9e8","#3aa6d6","#2b3b90","#1d9c78"]},"legend":null}}},
 {"data":{"values":[{"v":0},{"v":1}]},"mark":{"type":"line","color":"#333333","strokeWidth":1.3,"strokeDash":[1.5,3]},
  "encoding":{"x":{"field":"v","type":"quantitative"},"y":{"field":"v","type":"quantitative"}}},
 {"data":{"values":[{"a":0}]},"mark":{"type":"text","text":"Time:AUC(95%CI)","align":"left","baseline":"middle","fontSize":12,"color":"#222222"},
  "encoding":{"x":{"datum":0.655,"type":"quantitative"},"y":{"datum":0.254,"type":"quantitative"}}}
]},
{"data":{"values":[{"s":"365:0.82(0.90-0.75)"},{"s":"730:0.75(0.83-0.68)"},{"s":"1095:0.76(0.83-0.69)"},{"s":"1460:0.76(0.83-0.68)"},{"s":"1825:0.77(0.85-0.68)"}]},
 "layer":[
 {"mark":{"type":"point","shape":"M-1.5,0H1.5","filled":false,"size":165,"strokeWidth":2,"opacity":1},
  "encoding":{"x":{"datum":0.6245,"type":"quantitative"},"y":{"field":"s","type":"nominal","scale":{"type":"point","domain":["365:0.82(0.90-0.75)","730:0.75(0.83-0.68)","1095:0.76(0.83-0.69)","1460:0.76(0.83-0.68)","1825:0.77(0.85-0.68)"],"range":[243.5,296.8],"padding":0},"axis":null},"color":{"field":"s","type":"nominal","legend":null}}},
 {"mark":{"type":"text","align":"left","baseline":"middle","fontSize":12,"color":"#222222"},
  "encoding":{"x":{"datum":0.655,"type":"quantitative"},"y":{"field":"s","type":"nominal","axis":null},"text":{"field":"s","type":"nominal"}}}
 ]}
]
},
{"width":69,"height":307,"data":{"values":[{"a":0}]},"mark":{"type":"point","opacity":0}},
{
"width":358,"height":307,
"view":{"stroke":"#333333","strokeWidth":1.5},
"title":{"text":"KM curve of Nomogarm","fontSize":26,"fontWeight":"normal","offset":13.5,"baseline":"alphabetic","dy":26,"frame":"group","anchor":"middle"},
"resolve":{"scale":{"y":"independent"}},
"layer":[
{"layer":[
 {"data":{"name":"kmband"},"mark":{"type":"area","interpolate":"step-after","opacity":0.38},
  "encoding":{"x":{"field":"t","type":"quantitative","scale":{"domain":[-183.5,3853.5],"nice":false,"zero":false},
   "axis":{"values":[0,1000,2000,3000],"format":"d","title":"Time","grid":false,"tickSize":5,"tickColor":"#333","domain":false,"labelFontSize":12.5,"labelColor":"#333","labelPadding":4,"labelFlush":false,"labelOverlap":false,"titleFontSize":15.5,"titlePadding":11}},
  "y":{"field":"lo","type":"quantitative","stack":null,"scale":{"domain":[-0.05,1.052],"nice":false,"zero":false},
   "axis":{"values":[0,0.2,0.4,0.6,0.8,1],"format":".1f","title":"Survival probability","grid":false,"tickSize":5,"tickColor":"#333","domain":false,"labelFontSize":12.5,"labelColor":"#333","labelPadding":2,"labelOverlap":false,"titleFontSize":14,"titlePadding":5}},
  "y2":{"field":"hi"},
  "color":{"field":"g","type":"nominal","scale":{"domain":["Low","High"],"range":["#1f4b94","#e41a1c"]},"legend":null}}},
 {"data":{"name":"kmcurve"},"mark":{"type":"line","interpolate":"step-after","strokeWidth":1.6},
  "encoding":{"x":{"field":"t","type":"quantitative"},"y":{"field":"s","type":"quantitative"},"color":{"field":"g","type":"nominal","legend":null}}},
 {"data":{"name":"kmcens"},"mark":{"type":"point","shape":"M-1,0H1M0,-1V1","filled":false,"size":49,"strokeWidth":1.2,"opacity":1},
  "encoding":{"x":{"field":"t","type":"quantitative"},"y":{"field":"s","type":"quantitative"},"color":{"field":"g","type":"nominal","legend":null}}},
 {"data":{"values":[{"a":0}]},"mark":{"type":"text","text":"HR = 3.16 (2.08-4.79)","align":"left","baseline":"middle","fontSize":11.5,"color":"#222222"},
  "encoding":{"x":{"datum":0,"type":"quantitative"},"y":{"datum":0.069,"type":"quantitative"}}},
 {"data":{"values":[{"a":0}]},"mark":{"type":"text","text":"P < 0.001","align":"left","baseline":"middle","fontSize":11.5,"color":"#222222"},
  "encoding":{"x":{"datum":0,"type":"quantitative"},"y":{"datum":0.012,"type":"quantitative"}}},
 {"data":{"values":[{"a":0}]},"mark":{"type":"text","text":"Nomo-score","align":"center","baseline":"middle","fontSize":11.5,"color":"#222222"},
  "encoding":{"x":{"datum":2987,"type":"quantitative"},"y":{"datum":1.008,"type":"quantitative"}}}
]},
{"data":{"values":[{"g":"Low"},{"g":"High"}]},
 "layer":[
 {"mark":{"type":"point","shape":"M-1.6,-1H1.6V1H-1.6Z","filled":true,"size":121,"opacity":0.38},
  "encoding":{"x":{"datum":3098,"type":"quantitative"},"y":{"field":"g","type":"nominal","scale":{"type":"point","domain":["Low","High"],"range":[27.5,41.5],"padding":0},"axis":null},"color":{"field":"g","type":"nominal","legend":null}}},
 {"mark":{"type":"point","shape":"M-1.6,0H1.6M0,-0.7V0.7","filled":false,"size":121,"strokeWidth":1.5,"opacity":1},
  "encoding":{"x":{"datum":3098,"type":"quantitative"},"y":{"field":"g","type":"nominal","axis":null},"color":{"field":"g","type":"nominal","legend":null}}},
 {"mark":{"type":"text","align":"left","baseline":"middle","fontSize":12,"color":"#222222"},
  "encoding":{"x":{"datum":3278,"type":"quantitative"},"y":{"field":"g","type":"nominal","axis":null},"text":{"field":"g","type":"nominal"}}}
 ]}
]
}
],
"spacing":0,
"bounds":"flush"
}
]
}
